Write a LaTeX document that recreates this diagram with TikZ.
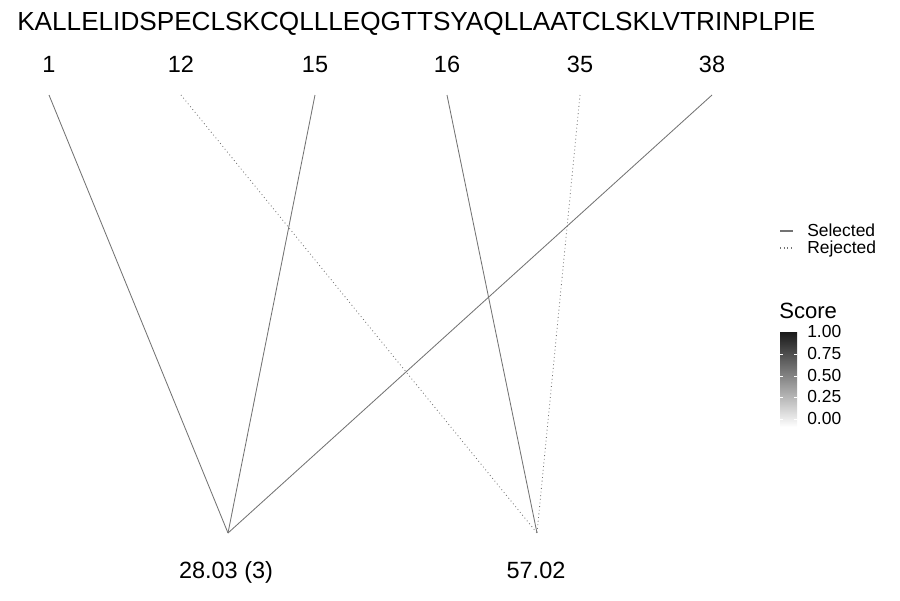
\documentclass[tikz,border=0pt]{standalone}
\usepackage{fontspec}
\setmainfont{Liberation Sans}
\begin{document}
\begin{tikzpicture}[x=0.025cm,y=-0.025cm,
  lbl/.style={inner sep=0pt,anchor=base,font=\fontsize{16.7}{16.7}\selectfont},
  leg/.style={inner sep=0pt,anchor=base west,text height=8.5pt,text depth=0pt,font=\fontsize{12.4}{12.4}\selectfont},
  sel/.style={draw=black!55,line width=0.6pt},
  rej/.style={draw=black!55,line width=0.6pt,dotted}]
\useasboundingbox (0,0) rectangle (900,600);
\node[inner sep=0pt,anchor=base west,font=\fontsize{18.6}{18.6}\selectfont] (seq) at (17,30) {KALLELIDSPECLSKCQLLLEQGTTSYAQLLAATCLSKLVTRINPLPIE};
% top labels
\node[lbl] (l1) at (49,72) {1};
\node[lbl] (l12) at (181,72) {12};
\node[lbl] (l15) at (315,72) {15};
\node[lbl] (l16) at (447,72) {16};
\node[lbl] (l35) at (580,72) {35};
\node[lbl] (l38) at (712,72) {38};
% endpoints
\coordinate (t1) at (49,95);
\coordinate (t12) at (181,95);
\coordinate (t15) at (315,95);
\coordinate (t16) at (447,95);
\coordinate (t35) at (580,95);
\coordinate (t38) at (712,95);
\coordinate (A) at (228,533);
\coordinate (B) at (537,533);
\node[lbl] (la) at (226,578) {28.03 (3)};
\node[lbl] (lb) at (536,578) {57.02};
\draw[sel] (t1) -- (A);
\draw[sel] (t15) -- (A);
\draw[sel] (t38) -- (A);
\draw[rej] (t12) -- (B);
\draw[sel] (t16) -- (B);
\draw[rej] (t35) -- (B);
% legend
\draw[sel,line width=1pt] (780,231) -- (793,231);
\draw[rej,line width=0.8pt] (780,248) -- (793,248);
\node[leg] (ls) at (807,236) {Selected};
\node[leg] (lr) at (807,253) {Rejected};
\node[inner sep=0pt,anchor=base west,font=\fontsize{15.7}{15.7}\selectfont] (sc) at (779,318) {Score};
\shade[top color=black!90,bottom color=white] (780,332) rectangle (797,427);
\foreach \yy in {354,376,397,419}{
  \draw[white,line width=0.4pt] (780,\yy) -- (783,\yy);
  \draw[white,line width=0.4pt] (794,\yy) -- (797,\yy);
}
\node[leg] (s100) at (807,337) {1.00};
\node[leg] (s075) at (807,359) {0.75};
\node[leg] (s050) at (807,381) {0.50};
\node[leg] (s025) at (807,402) {0.25};
\node[leg] (s000) at (807,424) {0.00};
\end{tikzpicture}
\end{document}
